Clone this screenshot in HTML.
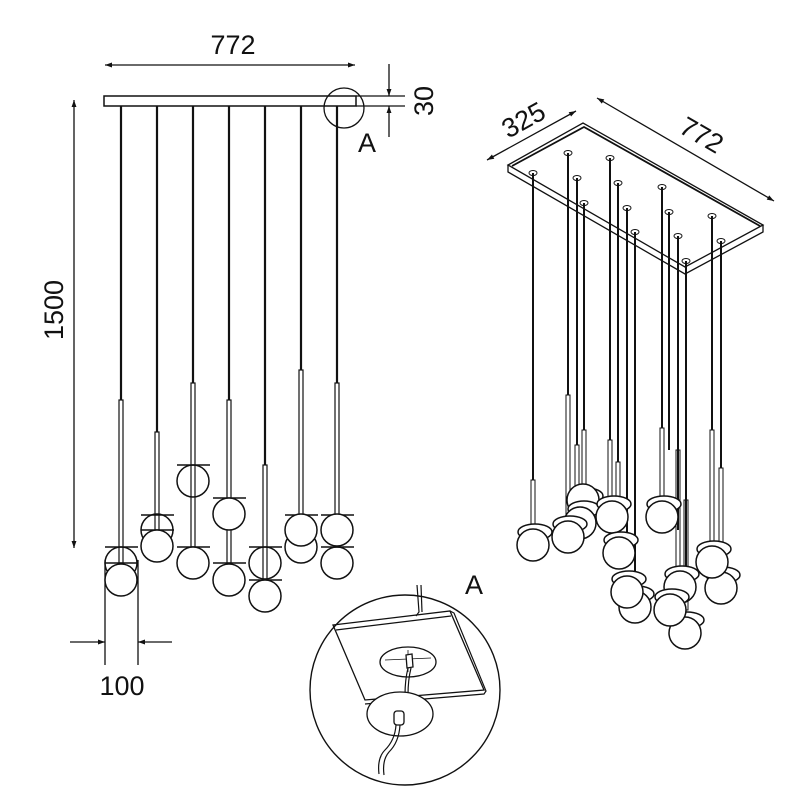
<!DOCTYPE html>
<html><head><style>body{margin:0;background:#fff}svg{display:block}text{font-family:"Liberation Sans","DejaVu Sans",sans-serif;fill:#111}</style></head><body>
<svg width="800" height="800" viewBox="0 0 800 800" xmlns="http://www.w3.org/2000/svg">
<defs>
<marker id="ar" viewBox="0 0 10 10" refX="10" refY="5" markerWidth="10" markerHeight="7" orient="auto-start-reverse" markerUnits="userSpaceOnUse"><path d="M0,1.5 L10,5 L0,8.5 Z" fill="#111"/></marker>
</defs>
<g stroke="#111" fill="none" stroke-width="1.3">
<!-- left view dims -->
<line x1="105" y1="65" x2="355" y2="65" marker-start="url(#ar)" marker-end="url(#ar)"/>
<text x="233" y="54" font-size="27" text-anchor="middle" stroke="none">772</text>
<line x1="74" y1="100" x2="74" y2="548" marker-start="url(#ar)" marker-end="url(#ar)"/>
<text x="0" y="0" font-size="27" text-anchor="middle" stroke="none" transform="translate(63,310) rotate(-90)">1500</text>
<line x1="356" y1="96" x2="405" y2="96"/><line x1="356" y1="106" x2="405" y2="106"/>
<line x1="389" y1="64" x2="389" y2="96" marker-end="url(#ar)"/>
<line x1="389" y1="137" x2="389" y2="106" marker-end="url(#ar)"/>
<text x="0" y="0" font-size="27" text-anchor="middle" stroke="none" transform="translate(433,101) rotate(-90)">30</text>
<text x="367" y="152" font-size="27" text-anchor="middle" stroke="none">A</text>
<rect x="104" y="96" width="252" height="10" stroke-width="1.5"/>
<circle cx="344" cy="108" r="20"/>
<!-- 100 dim -->
<line x1="105" y1="560" x2="105" y2="665"/><line x1="138" y1="560" x2="138" y2="665"/>
<line x1="70" y1="642" x2="105" y2="642" marker-end="url(#ar)"/>
<line x1="172" y1="642" x2="138" y2="642" marker-end="url(#ar)"/>
<text x="122" y="695" font-size="27" text-anchor="middle" stroke="none">100</text>
<!-- rods -->
<g stroke-width="2.2">
<line x1="121" y1="106" x2="121" y2="400"/><line x1="157" y1="106" x2="157" y2="432"/>
<line x1="193" y1="106" x2="193" y2="383"/><line x1="229" y1="106" x2="229" y2="400"/>
<line x1="265" y1="106" x2="265" y2="465"/><line x1="301" y1="106" x2="301" y2="370"/>
<line x1="337" y1="106" x2="337" y2="383"/>
</g>
<g stroke-width="1.2">
<rect x="119" y="400" width="4" height="163"/><rect x="155" y="432" width="4" height="98"/>
<rect x="191" y="383" width="4" height="164"/><rect x="227" y="400" width="4" height="163"/>
<rect x="263" y="465" width="4" height="115"/><rect x="299" y="370" width="4" height="145"/>
<rect x="335" y="383" width="4" height="132"/>
</g>
<g stroke-width="1.5">
<line x1="105" y1="547" x2="138" y2="547"/><circle cx="121" cy="563" r="16"/><circle cx="121" cy="580" r="16" fill="#fff"/><line x1="105" y1="563" x2="138" y2="563"/>
<line x1="141" y1="515" x2="174" y2="515"/><circle cx="157" cy="530" r="16"/><line x1="141" y1="530" x2="174" y2="530"/><circle cx="157" cy="546" r="16" fill="#fff"/>
<line x1="177" y1="465" x2="210" y2="465"/><circle cx="193" cy="481" r="16"/>
<line x1="177" y1="547" x2="210" y2="547"/><circle cx="193" cy="563" r="16" fill="#fff"/>
<line x1="213" y1="498" x2="246" y2="498"/><circle cx="229" cy="514" r="16" fill="#fff"/>
<line x1="213" y1="563" x2="246" y2="563"/><circle cx="229" cy="580" r="16" fill="#fff"/>
<line x1="249" y1="547" x2="282" y2="547"/><circle cx="265" cy="563" r="16"/>
<line x1="249" y1="580" x2="282" y2="580"/><circle cx="265" cy="596" r="16" fill="#fff"/>
<line x1="285" y1="515" x2="318" y2="515"/><circle cx="301" cy="547" r="16" fill="#fff"/><circle cx="301" cy="530" r="16" fill="#fff"/>
<line x1="321" y1="515" x2="354" y2="515"/><circle cx="337" cy="563" r="16" fill="#fff"/><circle cx="337" cy="530" r="16" fill="#fff"/><line x1="321" y1="547" x2="354" y2="547"/>
</g>
<!-- right view dims -->
<line x1="487" y1="160" x2="576" y2="111" marker-start="url(#ar)" marker-end="url(#ar)"/>
<text x="0" y="0" font-size="27" text-anchor="middle" stroke="none" transform="translate(528,128) rotate(-29)">325</text>
<line x1="597" y1="98" x2="774" y2="201" marker-start="url(#ar)" marker-end="url(#ar)"/>
<text x="0" y="0" font-size="27" text-anchor="middle" stroke="none" transform="translate(697,143) rotate(30)">772</text>
<!-- canopy -->
<path d="M508,165 L583,123 L763,225 L685,267 Z" stroke-width="1.3"/>
<path d="M508,165 L508,172 L685,274 L763,232 L763,225" stroke-width="1.3"/>
<path d="M512,166 L584,127 L760,226" stroke-width="1.8"/>
<!-- pendants right -->
<g id="rp" stroke-width="2">
<line x1="533" y1="173" x2="533" y2="480"/><line x1="568" y1="153" x2="568" y2="395"/>
<line x1="577" y1="178" x2="577" y2="445"/><line x1="584" y1="203" x2="584" y2="430"/>
<line x1="610" y1="158" x2="610" y2="440"/><line x1="618" y1="183" x2="618" y2="462"/>
<line x1="627" y1="208" x2="627" y2="560"/><line x1="635" y1="232" x2="635" y2="575"/>
<line x1="662" y1="187" x2="662" y2="428"/><line x1="669" y1="212" x2="669" y2="450"/>
<line x1="678" y1="236" x2="678" y2="530"/><line x1="686" y1="261" x2="686" y2="590"/>
<line x1="712" y1="216" x2="712" y2="430"/><line x1="721" y1="241" x2="721" y2="468"/>
</g>
<g stroke-width="1">
<ellipse cx="533" cy="173" rx="4" ry="2.5"/><ellipse cx="568" cy="153" rx="4" ry="2.5"/><ellipse cx="577" cy="178" rx="4" ry="2.5"/><ellipse cx="584" cy="203" rx="4" ry="2.5"/><ellipse cx="610" cy="158" rx="4" ry="2.5"/><ellipse cx="618" cy="183" rx="4" ry="2.5"/><ellipse cx="627" cy="208" rx="4" ry="2.5"/><ellipse cx="635" cy="232" rx="4" ry="2.5"/><ellipse cx="662" cy="187" rx="4" ry="2.5"/><ellipse cx="669" cy="212" rx="4" ry="2.5"/><ellipse cx="678" cy="236" rx="4" ry="2.5"/><ellipse cx="686" cy="261" rx="4" ry="2.5"/><ellipse cx="712" cy="216" rx="4" ry="2.5"/><ellipse cx="721" cy="241" rx="4" ry="2.5"/>
<rect x="531" y="480" width="4" height="50"/><rect x="566" y="395" width="4" height="130"/><rect x="575" y="445" width="4" height="70"/><rect x="582" y="430" width="4" height="60"/><rect x="608" y="440" width="4" height="65"/><rect x="616" y="462" width="4" height="80"/><rect x="660" y="428" width="4" height="75"/><rect x="676" y="450" width="4" height="120"/><rect x="684" y="500" width="4" height="110"/><rect x="710" y="430" width="4" height="118"/><rect x="719" y="468" width="4" height="105"/>
</g>
<g stroke-width="1.5" fill="#fff">
<g transform="translate(583,500)"><ellipse cx="4" cy="-4" rx="16" ry="8"/><circle r="16"/></g>
<g transform="translate(580,523)"><ellipse cx="4" cy="-14" rx="16" ry="8"/><circle r="16"/></g>
<g transform="translate(533,545)"><ellipse cx="2" cy="-13" rx="17" ry="8"/><circle r="16"/></g>
<g transform="translate(568,537)"><ellipse cx="2" cy="-13" rx="17" ry="8"/><circle r="16"/></g>
<g transform="translate(612,517)"><ellipse cx="2" cy="-13" rx="17" ry="8"/><circle r="16"/></g>
<g transform="translate(662,517)"><ellipse cx="2" cy="-13" rx="17" ry="8"/><circle r="16"/></g>
<g transform="translate(619,553)"><ellipse cx="2" cy="-13" rx="17" ry="8"/><circle r="16"/></g>
<g transform="translate(721,588)"><ellipse cx="2" cy="-13" rx="17" ry="8"/><circle r="16"/></g>
<g transform="translate(712,562)"><ellipse cx="2" cy="-13" rx="17" ry="8"/><circle r="16"/></g>
<g transform="translate(680,587)"><ellipse cx="2" cy="-13" rx="17" ry="8"/><circle r="16"/></g>
<g transform="translate(635,607)"><ellipse cx="2" cy="-13" rx="17" ry="8"/><circle r="16"/></g>
<g transform="translate(627,592)"><ellipse cx="2" cy="-13" rx="17" ry="8"/><circle r="16"/></g>
<g transform="translate(685,633)"><ellipse cx="2" cy="-13" rx="17" ry="8"/><circle r="16"/></g>
<g transform="translate(670,610)"><ellipse cx="2" cy="-13" rx="17" ry="8"/><circle r="16"/></g>
</g>
<!-- detail A -->
<text x="474" y="594" font-size="27" text-anchor="middle" stroke="none">A</text>
<circle cx="405" cy="690" r="95" stroke-width="1.4"/>
<path d="M417,585 L419,612 L416,616" stroke-width="1.2"/><path d="M421,585 L422,612" stroke-width="1.2"/>
<path d="M333,625 L450,611 L484,690 L365,700 Z" stroke-width="1.3"/>
<path d="M336,630 L451,616" stroke-width="1.2"/><path d="M450,611 L454,613 L486,691 L484,694 L365,704" stroke-width="1.2"/>
<ellipse cx="408" cy="662" rx="28" ry="15"/>
<path d="M385,660 L431,658 M408,650 L408,672" stroke-width="0.8"/>
<path d="M406,655 L412,654 L413,667 L407,668 Z" fill="#fff"/>
<path d="M408,668 Q405,680 405,695" stroke-width="1.2"/><path d="M411,668 Q408,680 408,695" stroke-width="1.2"/>
<ellipse cx="400" cy="714" rx="33" ry="22" fill="#fff"/>
<rect x="394" y="711" width="10" height="14" rx="3" fill="#fff"/>
<path d="M396,725 Q395,740 385,750 Q377,758 379,774" stroke-width="1.2"/><path d="M400,725 Q399,742 389,752 Q382,760 384,775" stroke-width="1.2"/>
</g>
</svg>
</body></html>
